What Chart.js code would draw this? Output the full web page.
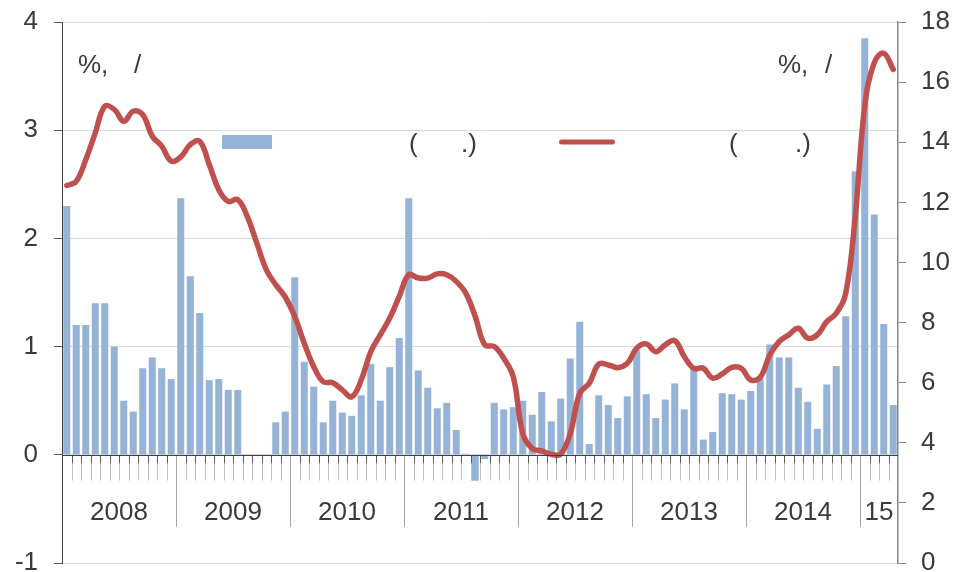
<!DOCTYPE html>
<html><head><meta charset="utf-8">
<script src="https://cdn.jsdelivr.net/npm/chart.js@4/dist/chart.umd.min.js"></script>
<style>html,body{margin:0;padding:0;background:#fff;}canvas{display:block;}</style>
</head><body>
<canvas id="c" width="955" height="572"></canvas>
<script>
// ---- data ----
const years = ['2008','2009','2010','2011','2012','2013','2014','2015'];
const yearLabels = ['2008','2009','2010','2011','2012','2013','2014','15'];
const monthsPerYear = [12,12,12,12,12,12,12,4];
const categories = [];
years.forEach((y, yi) => { for (let m = 1; m <= monthsPerYear[yi]; m++) categories.push(y + '-' + String(m).padStart(2,'0')); });

// monthly inflation, %, left axis
const monthlyInflation = [
  2.30,1.20,1.20,1.40,1.40,1.00,0.50,0.40,0.80,0.90,0.80,0.70,
  2.37,1.65,1.31,0.69,0.70,0.60,0.60,0.00,0.00,0.00,0.30,0.40,
  1.64,0.86,0.63,0.30,0.50,0.39,0.36,0.55,0.84,0.50,0.81,1.08,
  2.37,0.78,0.62,0.43,0.48,0.23,0.01,-0.24,-0.04,0.48,0.42,0.44,
  0.50,0.37,0.58,0.31,0.52,0.89,1.23,0.10,0.55,0.46,0.34,0.54,
  0.97,0.56,0.34,0.51,0.66,0.42,0.80,0.14,0.21,0.57,0.56,0.51,
  0.59,0.70,1.02,0.90,0.90,0.62,0.49,0.24,0.65,0.82,1.28,2.62,
  3.85,2.22,1.21,0.46
];
// annual inflation, %, right axis
const annualInflation = [
  12.56,12.70,13.42,14.31,15.20,15.09,14.70,15.03,14.92,14.20,13.87,13.37,
  13.51,13.92,14.03,13.26,12.42,12.03,12.09,11.53,10.65,9.76,9.26,8.85,
  8.20,7.31,6.53,6.03,6.00,5.76,5.53,6.09,7.03,7.59,8.15,8.87,
  9.59,9.48,9.48,9.62,9.59,9.37,8.98,8.20,7.26,7.20,6.81,6.20,
  4.31,3.81,3.73,3.62,3.62,4.31,5.65,5.98,6.62,6.59,6.50,6.64,
  7.15,7.29,7.03,7.26,7.40,6.87,6.48,6.48,6.15,6.29,6.51,6.48,
  6.09,6.18,6.92,7.37,7.59,7.81,7.48,7.59,8.03,8.31,8.98,11.53,
  15.20,16.65,16.96,16.42
];
const leftAxisRange = [-1, 4];
const rightAxisRange = [0, 18];

// ---- style ----
const FONT = '"Liberation Sans", Arial, sans-serif';
const TXT = '#3a3a3a';
const BAR = '#95B3D7';
const LINE = '#C0504D';

const decor = {
  id: 'decor',
  afterDatasetsDraw(chart) {
    const ctx = chart.ctx, xs = chart.scales.x, ys = chart.scales.y, ca = chart.chartArea;
    const n = categories.length;
    const step = xs.getPixelForValue(1) - xs.getPixelForValue(0);
    const y0 = Math.round(ys.getPixelForValue(0)) + 0.5;
    ctx.save();
    // month ticks
    for (let i = 1; i < n; i++) {
      const bx = Math.round(xs.getPixelForValue(i) - step / 2) + 0.5;
      ctx.lineWidth = 1;
      ctx.strokeStyle = '#595959';
      ctx.beginPath(); ctx.moveTo(bx, y0); ctx.lineTo(bx, y0 + 8); ctx.stroke();
      ctx.strokeStyle = '#BFBFBF';
      ctx.beginPath(); ctx.moveTo(bx, y0 + 8); ctx.lineTo(bx, y0 + 25); ctx.stroke();
    }
    // year separators and labels
    let start = 0;
    ctx.font = '26px ' + FONT;
    ctx.fillStyle = TXT;
    ctx.textAlign = 'center';
    ctx.textBaseline = 'alphabetic';
    monthsPerYear.forEach((cnt, yi) => {
      const first = start, last = start + cnt - 1;
      const cx = (xs.getPixelForValue(first) + xs.getPixelForValue(last)) / 2;
      ctx.fillText(yearLabels[yi], cx, 520);
      if (yi > 0) {
        const bx = Math.round(xs.getPixelForValue(first) - step / 2) + 0.5;
        ctx.strokeStyle = '#A6A6A6';
        ctx.beginPath(); ctx.moveTo(bx, y0); ctx.lineTo(bx, 527); ctx.stroke();
      }
      start += cnt;
    });
    // x axis line at zero
    ctx.strokeStyle = '#404040';
    ctx.lineWidth = 1;
    ctx.beginPath(); ctx.moveTo(ca.left, y0); ctx.lineTo(ca.right, y0); ctx.stroke();

    // unit captions and legend
    ctx.textAlign = 'left';
    ctx.font = '26px ' + FONT;
    const texts = [
      ['%,', 78, 73], ['/', 134, 73],
      ['%,', 778, 73], ['/', 825, 73],
      ['(', 409, 152], ['.)', 461, 152],
      ['(', 729, 152], ['.)', 795, 152]
    ];
    texts.forEach(t => ctx.fillText(t[0], t[1], t[2]));
    ctx.fillStyle = BAR;
    ctx.fillRect(222, 135, 50, 14);
    ctx.strokeStyle = LINE;
    ctx.lineWidth = 5;
    ctx.lineCap = 'round';
    ctx.beginPath(); ctx.moveTo(561.5, 142); ctx.lineTo(612.5, 142); ctx.stroke();
    ctx.restore();
  }
};

new Chart(document.getElementById('c'), {
  data: {
    labels: categories,
    datasets: [
      { type: 'line', data: annualInflation, yAxisID: 'y1', borderColor: LINE, borderWidth: 5.5,
        tension: 0.4, pointRadius: 0, order: 0, borderCapStyle: 'round', borderJoinStyle: 'round' },
      { type: 'bar', data: monthlyInflation, yAxisID: 'y', backgroundColor: BAR,
        barPercentage: 0.74, categoryPercentage: 1, order: 1 }
    ]
  },
  options: {
    responsive: false,
    devicePixelRatio: 1,
    animation: false,
    events: [],
    layout: { padding: { top: 22, bottom: 9, left: 0, right: 0 } },
    plugins: { legend: { display: false }, tooltip: { enabled: false } },
    scales: {
      x: { type: 'category', display: false, offset: true },
      y: {
        position: 'left', min: leftAxisRange[0], max: leftAxisRange[1],
        ticks: { stepSize: 1, color: TXT, font: { family: FONT, size: 26 }, padding: 16 },
        grid: { color: '#D9D9D9', lineWidth: 1, tickColor: '#595959', tickLength: 8 },
        border: { color: '#404040', width: 1 },
        afterFit(s) { s.width = 62; s.paddingTop = 0; s.paddingBottom = 0; }
      },
      y1: {
        position: 'right', min: rightAxisRange[0], max: rightAxisRange[1],
        ticks: { stepSize: 2, color: TXT, font: { family: FONT, size: 26 }, padding: 15 },
        grid: { drawOnChartArea: false, tickColor: '#868686', tickLength: 8 },
        border: { color: '#868686', width: 1.5 },
        afterFit(s) { s.width = 57; s.paddingTop = 0; s.paddingBottom = 0; }
      }
    }
  },
  plugins: [decor]
});
</script>
</body></html>
